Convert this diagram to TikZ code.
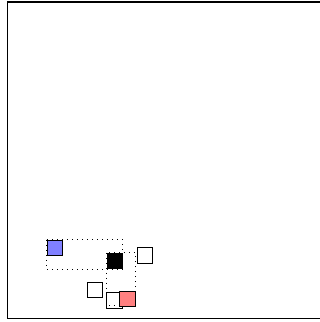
\documentclass[tikz,border=0pt]{standalone}
\usetikzlibrary{backgrounds}
\begin{document}
\begin{tikzpicture}[x=1pt,y=-1pt,
  sq/.style={draw,line width=0.9pt,minimum size=15.5pt,inner sep=0pt},
  dots/.style={line width=0.9pt,dash pattern=on 0.8pt off 4.2pt}]
  \useasboundingbox (0,0) rectangle (320,322);
  \clip (0,0) rectangle (320,322);
  \draw[line width=1.5pt] (7.5,2) rectangle (330,318.5);
  % boxes
  \node[sq,fill={rgb,255:red,128;green,128;blue,255}] (blue) at (55,248) {};
  \node[sq,fill=black] (blk) at (114.7,261) {};
  \node[sq] (wr) at (145,255.5) {};
  \node[sq] (wl) at (95,290) {};
  \node[sq] (wb) at (114.5,300.5) {};
  \node[sq,fill={rgb,255:red,255;green,128;blue,128}] (red) at (127.3,298.7) {};
  % dotted bounds
  \begin{pgfonlayer}{background}
    \draw[dots] (blue.north west) rectangle (blk.south east);
    \draw[dots] (blk.north west) rectangle ([yshift=1.5pt]red.south east);
  \end{pgfonlayer}
\end{tikzpicture}
\end{document}
